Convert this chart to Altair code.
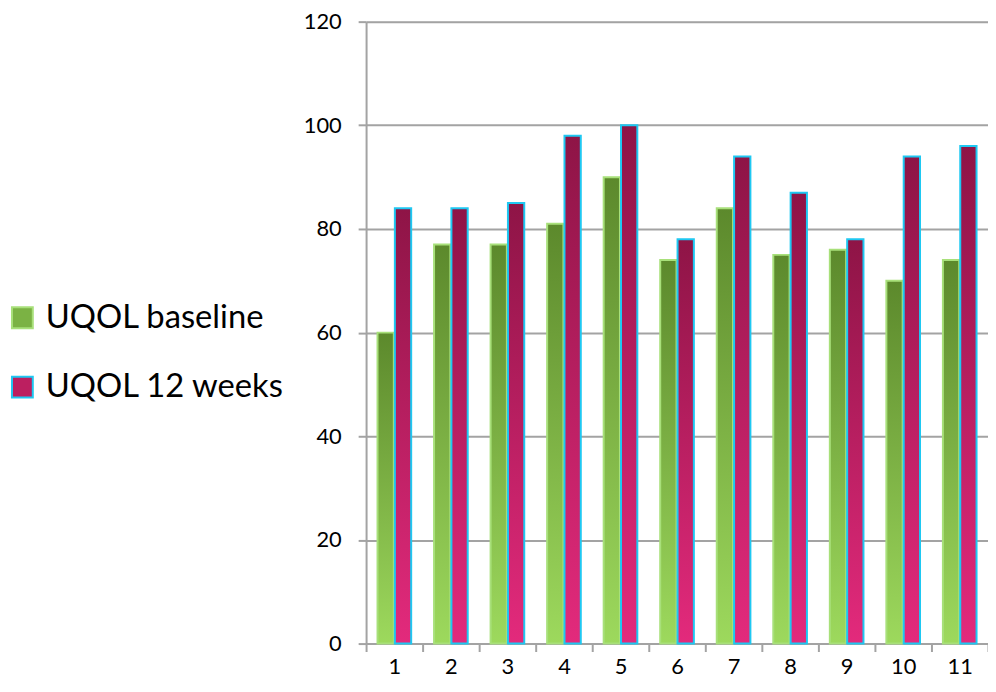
import altair as alt
import pandas as pd

patients = [str(i) for i in range(1, 12)]
baseline = [60, 77, 77, 81, 90, 74, 84, 75, 76, 70, 74]
weeks12 = [84, 84, 85, 98, 100, 78, 94, 87, 78, 94, 96]
series = ["UQOL baseline", "UQOL 12 weeks"]
y_ticks = [0, 20, 40, 60, 80, 100, 120]

rows = []
for p, b, w in zip(patients, baseline, weeks12):
    rows.append({"patient": p, "series": series[0], "value": b})
    rows.append({"patient": p, "series": series[1], "value": w})
df = pd.DataFrame(rows)

green_grad = {"gradient": "linear", "x1": 0, "y1": 0, "x2": 0, "y2": 1,
              "stops": [{"offset": 0, "color": "#5C892C"}, {"offset": 1, "color": "#9DD95D"}]}
mag_grad = {"gradient": "linear", "x1": 0, "y1": 0, "x2": 0, "y2": 1,
            "stops": [{"offset": 0, "color": "#8E1446"}, {"offset": 1, "color": "#E32A7C"}]}

FONT = "Lato"
GRID = "#A3A3A3"

x_enc = alt.X("patient:N", sort=patients,
              scale=alt.Scale(paddingInner=0, paddingOuter=0),
              axis=alt.Axis(title=None, labelAngle=0, tickBand="extent", tickSize=8,
                            tickColor=GRID, tickWidth=2, domainColor=GRID, domainWidth=2,
                            labelFontSize=22, labelFont=FONT, labelColor="black",
                            labelPadding=5, grid=False))
xoff_enc = alt.XOffset("series:N", sort=series,
                       scale=alt.Scale(paddingInner=0.06, paddingOuter=0.66))
y_enc = alt.Y("value:Q", stack=None,
              scale=alt.Scale(domain=[0, 120], nice=False),
              axis=alt.Axis(title=None, values=y_ticks, tickSize=8, tickColor=GRID, tickWidth=2,
                            domainColor=GRID, domainWidth=2, gridColor=GRID, gridWidth=2,
                            labelFontSize=22, labelFont=FONT, labelColor="black",
                            labelPadding=17))

bars = alt.Chart(df).mark_bar(strokeWidth=2).encode(
    x=x_enc, xOffset=xoff_enc, y=y_enc,
    fill=alt.condition(alt.datum.series == series[0], alt.value(green_grad), alt.value(mag_grad)),
    stroke=alt.condition(alt.datum.series == series[0], alt.value("#A8E07A"), alt.value("#1EC8F2")),
)

def make_legend():
    return alt.Legend(title=None, orient="none", legendX=-363, legendY=282, padding=0,
                      symbolType="square", symbolSize=441, symbolOpacity=1,
                      symbolStrokeWidth=2,
                      labelFont=FONT, labelFontSize=33, labelColor="black",
                      labelOffset=7, rowPadding=36, labelLimit=400)

legend_layer = alt.Chart(df).mark_bar(opacity=0).encode(
    x=x_enc, xOffset=xoff_enc, y=y_enc,
    fill=alt.Fill("series:N", sort=series,
                  scale=alt.Scale(domain=series, range=["#7BB244", "#BC1F60"]),
                  legend=make_legend()),
    stroke=alt.Stroke("series:N", sort=series,
                      scale=alt.Scale(domain=series, range=["#A8E07A", "#1EC8F2"]),
                      legend=make_legend()),
)

chart = alt.layer(legend_layer, bars).properties(
    width=627, height=627,
    autosize=alt.AutoSizeParams(type="none"),
    padding={"left": 361, "top": 11, "right": 0, "bottom": 40},
).configure_view(stroke=None).configure(background="white")

chart.save("out.html", embed_options={"renderer": "svg", "actions": False})
